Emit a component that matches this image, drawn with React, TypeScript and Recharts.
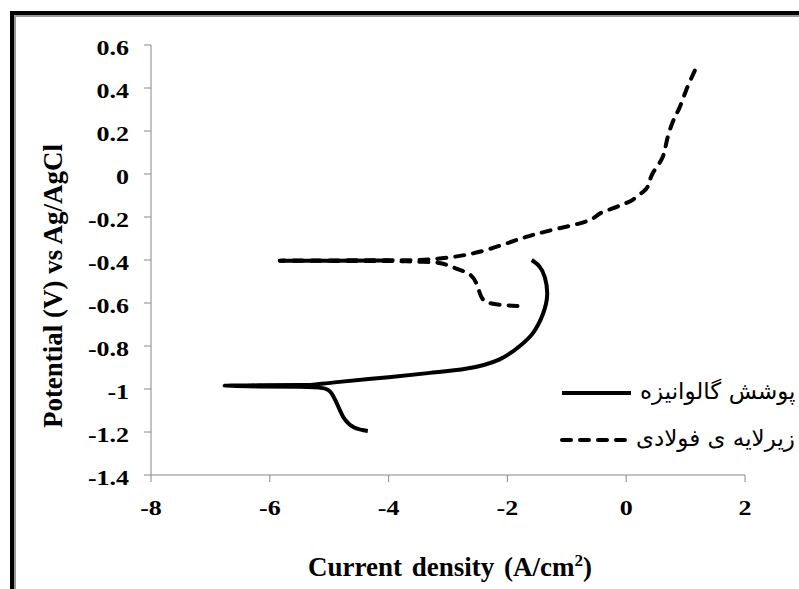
import { LineChart, Line, XAxis, YAxis, Legend } from "recharts";

// galvanized coating (solid), cathodic end -> Ecorr -> anodic end
const coatingX = [-4.35, -4.57, -4.74, -4.85, -4.96, -5.11, -5.5, -6.2, -6.76, -6.2, -5.5, -5.27, -4.87, -4.0, -3.3, -2.68, -2.13, -1.79, -1.57, -1.4, -1.33, -1.37, -1.46, -1.59];
const coatingY = [-1.195, -1.18, -1.14, -1.08, -1.02, -0.996, -0.99, -0.988, -0.985, -0.983, -0.981, -0.98, -0.968, -0.945, -0.925, -0.905, -0.862, -0.8, -0.74, -0.65, -0.56, -0.48, -0.43, -0.4];

// steel substrate (dashed)
const steelX = [-1.83, -2.05, -2.3, -2.42, -2.47, -2.52, -2.62, -2.8, -3.0, -3.2, -3.6, -4.0, -5.0, -5.83, -5.0, -4.0, -3.48, -2.92, -2.35, -1.79, -1.24, -0.67, -0.45, -0.23, 0.0, 0.11, 0.25, 0.36, 0.44, 0.6, 0.68, 0.78, 0.9, 1.01, 1.12, 1.17];
const steelY = [-0.614, -0.61, -0.6, -0.58, -0.55, -0.51, -0.47, -0.446, -0.425, -0.412, -0.407, -0.405, -0.404, -0.403, -0.402, -0.401, -0.4, -0.386, -0.353, -0.302, -0.26, -0.22, -0.185, -0.16, -0.135, -0.12, -0.09, -0.06, 0.0, 0.07, 0.15, 0.24, 0.31, 0.39, 0.46, 0.49];

// dense part of the steel curve near Ecorr, drawn solid like the original
const steelDenseX = [-5.83, -5.0, -4.0];
const steelDenseY = [-0.403, -0.403, -0.402];

const xTicks = [-8, -6, -4, -2, 0, 2];
const yTicks = [-1.4, -1.2, -1, -0.8, -0.6, -0.4, -0.2, 0, 0.2, 0.4, 0.6];

const coatingName = "پوشش گالوانیزه";
const steelName = "زیرلایه ی فولادی";
const legendNames = [coatingName, steelName];

const coatingData = coatingX.map((x, i) => ({ x, y: coatingY[i] }));
const steelData = steelX.map((x, i) => ({ x, y: steelY[i] }));
const steelDenseData = steelDenseX.map((x, i) => ({ x, y: steelDenseY[i] }));

const serif = "'Liberation Serif', 'Times New Roman', serif";

// the original tick labels are a bit stretched sideways
function XTick({ x, y, payload }: any) {
    return (
        <text transform={`translate(${x},${y + 16}) scale(1.18,1)`} textAnchor="middle" fontSize={22} fontWeight="bold" fontFamily={serif} fill="#000">
            {payload.value}
        </text>
    );
}

function YTick({ x, y, payload }: any) {
    return (
        <text transform={`translate(${x},${y + 10}) scale(1.18,1)`} textAnchor="end" fontSize={22} fontWeight="bold" fontFamily={serif} fill="#000">
            {payload.value}
        </text>
    );
}

function LegendBox() {
    return (
        <svg width={240} height={80} style={{ display: "block" }}>
            {legendNames.map((name, i) => {
                const y = 15 + i * 47;
                const dashed = name === steelName;
                return (
                    <g key={i}>
                        <line
                            x1={4}
                            x2={73}
                            y1={y}
                            y2={y}
                            stroke="#000"
                            strokeWidth={4}
                            strokeLinecap={dashed ? "round" : "butt"}
                            strokeDasharray={dashed ? "9 9" : undefined}
                        />
                        <text x={dashed ? 78 : 82} y={y + 6} fontSize={23} fontFamily="'DejaVu Sans', sans-serif" fill="#000">
                            {name}
                        </text>
                    </g>
                );
            })}
        </svg>
    );
}

export default function App() {
    return (
        <div style={{ position: "absolute", left: 0, top: 0, width: 799, height: 589, overflow: "hidden", background: "#fff" }}>
            <div
                style={{
                    position: "absolute",
                    left: 10,
                    top: 11,
                    width: 830,
                    height: 640,
                    border: "4px solid #000",
                    boxShadow: "inset 2px 2px 0 #9a9a9a",
                }}
            />
            <div style={{ position: "absolute", left: 0, top: 0 }}>
                <LineChart width={799} height={589} margin={{ top: 45, right: 54, bottom: 54, left: 91 }}>
                    <XAxis
                        dataKey="x"
                        type="number"
                        domain={[-8, 2]}
                        ticks={xTicks}
                        stroke="#888"
                        tickSize={7}
                        tickMargin={17}
                        height={60}
                        tick={<XTick />}
                        allowDataOverflow
                        label={{
                            content: () => (
                                <text x={450} y={576} textAnchor="middle" fontSize={27} fontWeight="bold" fontFamily={serif} fill="#000" wordSpacing={3}>
                                    Current density (A/cm
                                    <tspan fontSize={17} dy={-10}>2</tspan>
                                    <tspan dy={10}>)</tspan>
                                </text>
                            ),
                        }}
                    />
                    <YAxis
                        dataKey="y"
                        type="number"
                        domain={[-1.4, 0.6]}
                        ticks={yTicks}
                        stroke="#888"
                        tickSize={7}
                        tickMargin={15}
                        width={60}
                        tick={<YTick />}
                        allowDataOverflow
                        label={{
                            content: () => (
                                <text x={62} y={286} transform="rotate(-90 62 286)" textAnchor="middle" fontSize={27} fontWeight="bold" fontFamily={serif} fill="#000">
                                    Potential (V) vs Ag/AgCl
                                </text>
                            ),
                        }}
                    />
                    <Legend
                        layout="horizontal"
                        verticalAlign="middle"
                        align="center"
                        content={<LegendBox />}
                        wrapperStyle={{ left: 558, top: 378, width: 240, height: 80 }}
                    />
                    <Line
                        data={coatingData}
                        dataKey="y"
                        name={coatingName}
                        type="natural"
                        stroke="#000"
                        strokeWidth={4}
                        dot={false}
                        activeDot={false}
                        isAnimationActive={false}
                    />
                    <Line
                        data={steelData}
                        dataKey="y"
                        name={steelName}
                        type="natural"
                        stroke="#000"
                        strokeWidth={4}
                        strokeDasharray="9 9"
                        strokeLinecap="round"
                        dot={false}
                        activeDot={false}
                        isAnimationActive={false}
                    />
                    <Line
                        data={steelDenseData}
                        dataKey="y"
                        name="steel-dense"
                        legendType="none"
                        type="linear"
                        stroke="#000"
                        strokeWidth={4}
                        strokeLinecap="round"
                        dot={false}
                        activeDot={false}
                        isAnimationActive={false}
                    />
                </LineChart>
            </div>
        </div>
    );
}
